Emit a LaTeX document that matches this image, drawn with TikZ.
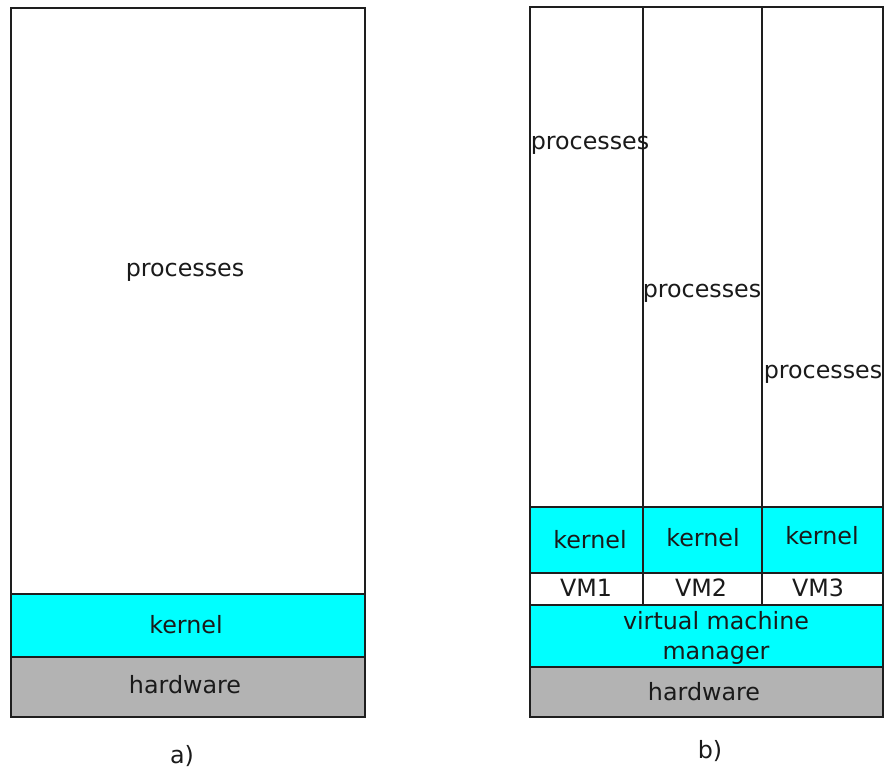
\documentclass[tikz,border=0pt]{standalone}
\usepackage{fontspec}
\setmainfont{DejaVu Sans}
\usetikzlibrary{fit}
\definecolor{kern}{HTML}{00FFFF}
\definecolor{hw}{HTML}{B3B3B3}
\definecolor{edge}{HTML}{1E1E1E}
\definecolor{ink}{HTML}{1A1A1A}
\begin{document}
\begin{tikzpicture}[x=0.5pt,y=-0.5pt,
  block/.style={draw=edge,line width=1.1pt,inner sep=0pt,outer sep=0pt,text=ink,
    font=\fontsize{11.9}{14}\selectfont},
  lbl/.style={inner sep=0pt,text=ink,font=\fontsize{11.9}{14}\selectfont,align=center}]
\useasboundingbox (0,0) rectangle (884,769);

% a) a single operating system on the hardware
\node[block,fit={(11,8)(365,594)}] (aproc) {};
\node[block,fill=kern,fit={(11,594)(365,657)}] (akern) {};
\node[block,fill=hw,fit={(11,657)(365,717)}] (ahw) {};
\node[lbl] (aproct) at (185,272) {processes};
\node[lbl] (akernt) at (186,625) {kernel};
\node[lbl] (ahwt) at (185,685) {hardware};
\node[lbl] (alab) at (182,756) {a)};

% b) three virtual machines above a virtual machine manager
\node[block,fit={(530,7)(643,507)}] (bp1) {};
\node[block,fit={(643,7)(762,507)}] (bp2) {};
\node[block,fit={(762,7)(883,507)}] (bp3) {};
\node[block,fill=kern,fit={(530,507)(643,573)}] (bk1) {};
\node[block,fill=kern,fit={(643,507)(762,573)}] (bk2) {};
\node[block,fill=kern,fit={(762,507)(883,573)}] (bk3) {};
\node[block,fit={(530,573)(643,605)}] (bv1) {};
\node[block,fit={(643,573)(762,605)}] (bv2) {};
\node[block,fit={(762,573)(883,605)}] (bv3) {};
\node[block,fill=kern,fit={(530,605)(883,667)}] (bvmm) {};
\node[block,fill=hw,fit={(530,667)(883,717)}] (bhw) {};

\node[lbl] (bp1t) at (590,145) {processes};
\node[lbl] (bp2t) at (702,293) {processes};
\node[lbl] (bp3t) at (823,374) {processes};
\node[lbl] (bk1t) at (590,540) {kernel};
\node[lbl] (bk2t) at (703,538) {kernel};
\node[lbl] (bk3t) at (822,536) {kernel};
\node[lbl] (bv1t) at (586,588) {VM1};
\node[lbl] (bv2t) at (701,588) {VM2};
\node[lbl] (bv3t) at (818,588) {VM3};
\node[lbl] (bvmmt) at (716,638) {virtual machine\\[1pt]manager};
\node[lbl] (bhwt) at (704,692) {hardware};
\node[lbl] (blab) at (710,751) {b)};
\end{tikzpicture}
\end{document}
